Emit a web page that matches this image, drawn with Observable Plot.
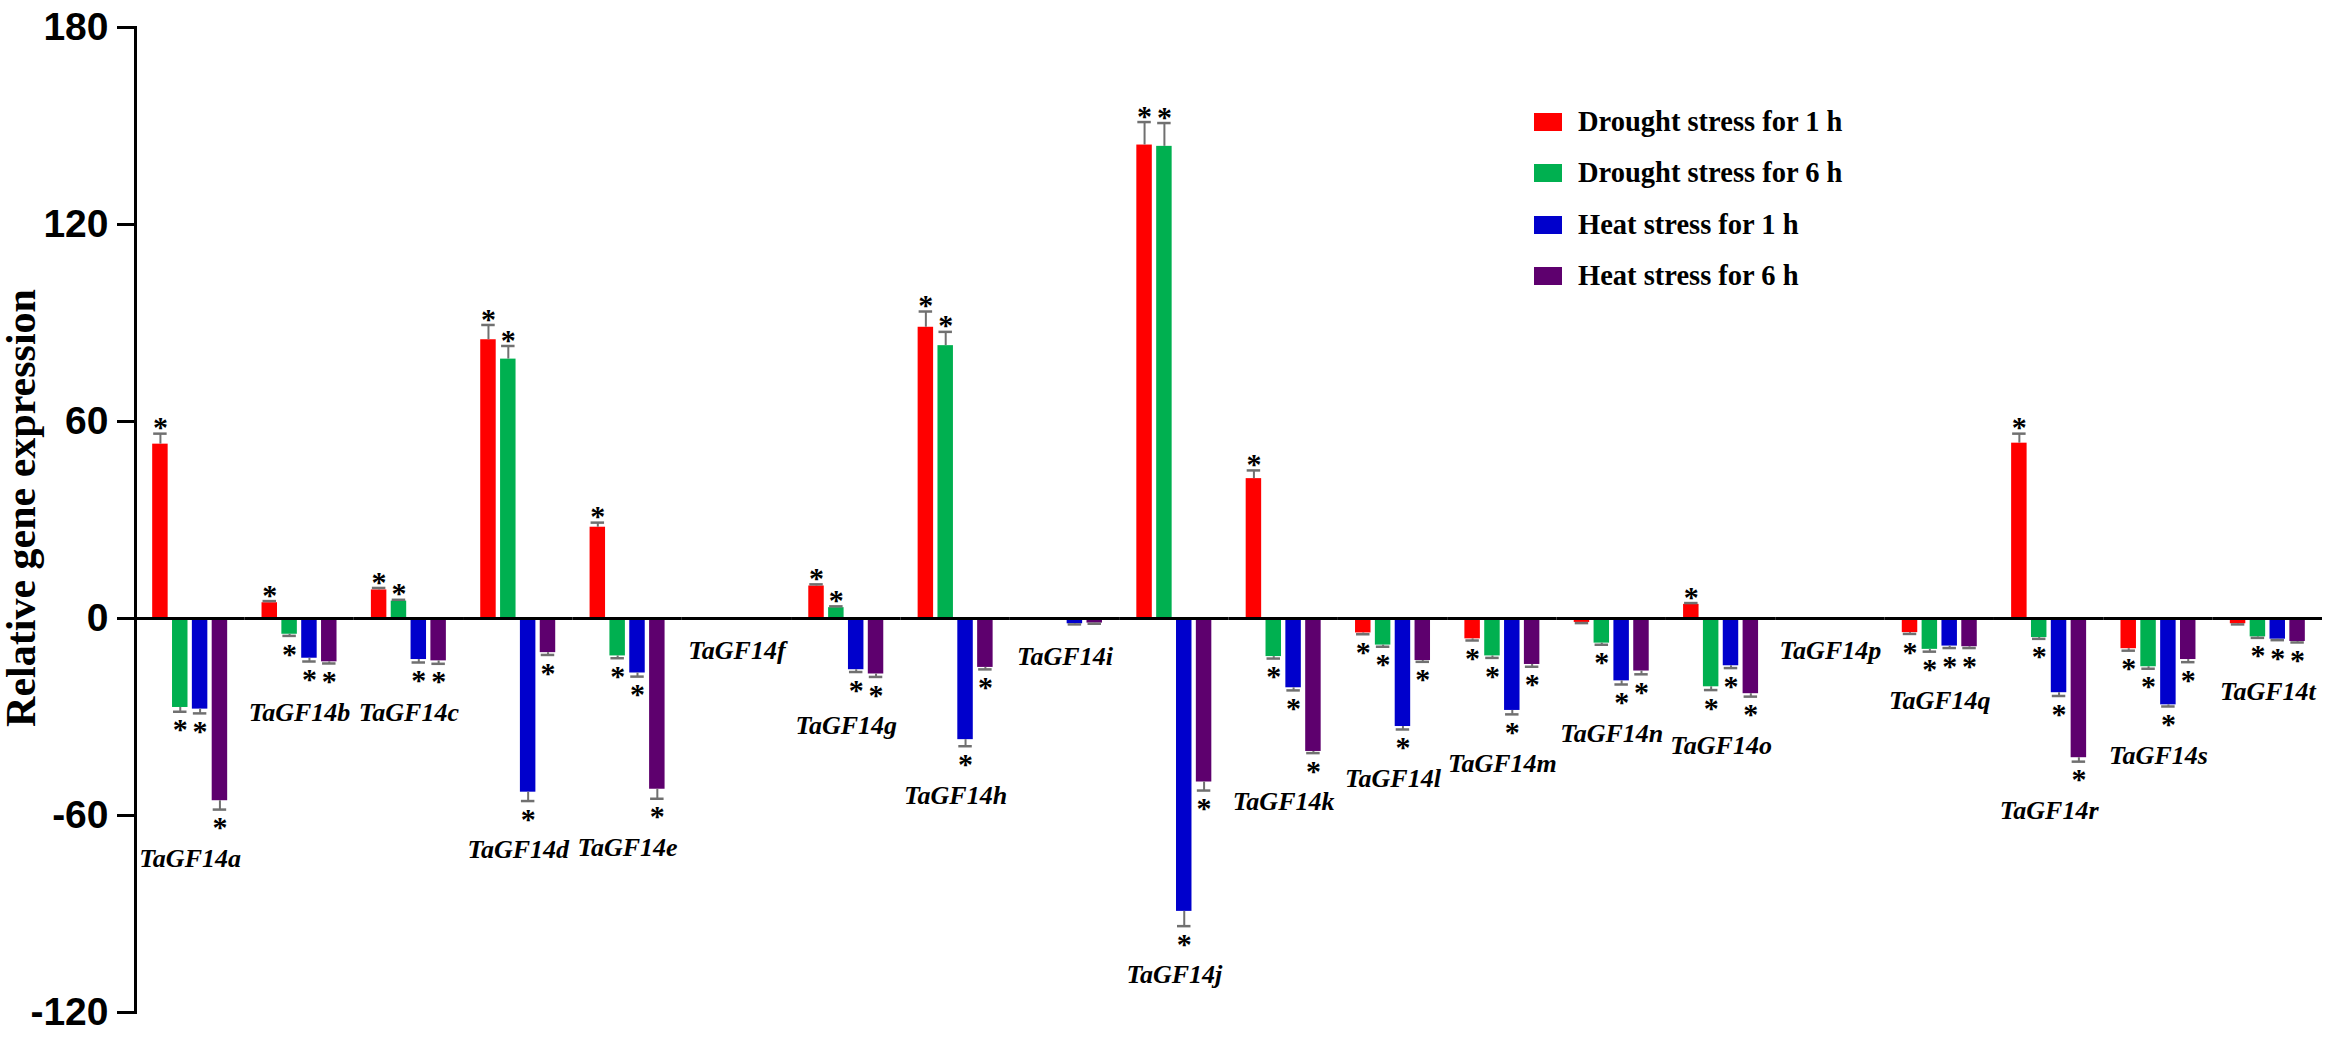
<!DOCTYPE html>
<html>
<head>
<meta charset="utf-8">
<script src="https://cdn.jsdelivr.net/npm/d3@7"></script>
<script src="https://cdn.jsdelivr.net/npm/@observablehq/plot@0.6"></script>
<style>
  html, body { margin: 0; padding: 0; background: #fff; }
  #wrap { position: relative; width: 2333px; height: 1039px; }
  #legend { position: absolute; left: 1534px; top: 96px; font-family: "Liberation Serif", "Times New Roman", serif; font-weight: bold; font-size: 28.5px; color: #000; }
  #legend .row { display: flex; align-items: center; height: 51.5px; }
  #legend .sw { width: 28px; height: 18px; margin-right: 16px; }
</style>
</head>
<body>
<div id="wrap"><div id="legend"></div></div>
<script>
// ---- data ----
const genes = ["TaGF14a","TaGF14b","TaGF14c","TaGF14d","TaGF14e","TaGF14f","TaGF14g","TaGF14h","TaGF14i","TaGF14j",
               "TaGF14k","TaGF14l","TaGF14m","TaGF14n","TaGF14o","TaGF14p","TaGF14q","TaGF14r","TaGF14s","TaGF14t"];
const series = ["Drought stress for 1 h", "Drought stress for 6 h", "Heat stress for 1 h", "Heat stress for 6 h"];
const colors = ["#ff0000", "#00b050", "#0000cc", "#5e006e"];

const drought1h    = [53.1, 4.8, 8.7, 84.9, 27.8, 0, 9.9, 88.7, 0, 144.2, 42.6, -4.4, -6.2, -1.2, 4.3, 0, -4.3, 53.4, -9.2, -1.6];
const drought1hErr = [3.2, 0.5, 0.6, 4.5, 1.4, 0, 0.5, 4.8, 0, 7.0, 2.5, 0.4, 0.5, 0.2, 0.4, 0, 0.4, 2.9, 0.6, 0.2];
const drought1hSig = [1,1,1,1,1,0,1,1,0,1,1,1,1,0,1,0,1,1,1,0];

const drought6h    = [-27.1, -4.8, 5.3, 79.0, -11.4, 0, 3.3, 83.1, 0, 143.8, -11.6, -8.1, -11.4, -7.5, -20.8, 0, -9.4, -5.8, -14.7, -5.6];
const drought6hErr = [1.3, 0.5, 0.4, 4.0, 0.7, 0, 0.4, 4.2, 0, 7.1, 0.6, 0.5, 0.6, 0.5, 1.0, 0, 0.7, 0.4, 0.6, 0.3];
const drought6hSig = [1,1,1,1,1,0,1,1,0,1,1,1,1,1,1,0,1,1,1,1];

const heat1h    = [-27.6, -12.1, -12.5, -52.9, -16.6, 0, -15.6, -36.9, -1.6, -89.2, -21.1, -32.9, -28.0, -19.0, -14.4, 0, -8.4, -22.6, -26.3, -6.3];
const heat1hErr = [1.3, 1.0, 0.9, 2.7, 1.1, 0, 0.7, 2.0, 0.2, 4.5, 0.8, 0.9, 1.2, 1.1, 0.7, 0, 0.6, 1.0, 0.5, 0.3];
const heat1hSig = [1,1,1,1,1,0,1,1,0,1,1,1,1,1,1,0,1,1,1,1];

const heat6h    = [-55.5, -13.2, -12.9, -10.4, -52.0, 0, -16.9, -14.9, -1.4, -49.8, -40.5, -12.8, -14.0, -16.0, -22.9, 0, -8.6, -42.4, -12.5, -7.0];
const heat6hErr = [2.7, 0.5, 0.9, 0.7, 2.9, 0, 0.9, 0.6, 0.2, 2.6, 0.5, 0.4, 0.7, 1.0, 0.9, 0, 0.4, 1.2, 0.8, 0.3];
const heat6hSig = [1,1,1,1,1,0,1,1,0,1,1,1,1,1,1,0,1,1,1,1];

const yTicks = [-120, -60, 0, 60, 120, 180];
const yLabel = "Relative gene expression";

// ---- tables built from the arrays ----
const values = [drought1h, drought6h, heat1h, heat6h];
const errs = [drought1hErr, drought6hErr, heat1hErr, heat6hErr];
const sigs = [drought1hSig, drought6hSig, heat1hSig, heat6hSig];
const rows = [];
genes.forEach((g, i) => series.forEach((s, k) => {
  const v = values[k][i], e = errs[k][i];
  rows.push({gene: g, series: s, value: v, err: e, end: v >= 0 ? v + e : v - e, sig: sigs[k][i]});
}));
const labels = genes.map(g => {
  const rs = rows.filter(r => r.gene === g);
  const lowest = d3.least(rs, r => r.end);
  const low = Math.min(0, lowest.end);
  return {gene: g, low, starred: low < 0 && lowest.sig === 1};
});

const errColor = "#707070";
const serif = "Liberation Serif, Times New Roman, serif";
const starFont = {fontSize: 30, fontWeight: "bold", fontFamily: serif, lineAnchor: "middle", fill: "black"};
const labelFont = {fontSize: 26, fontStyle: "italic", fontWeight: "bold", fontFamily: serif, lineAnchor: "middle", fill: "black"};

const chart = Plot.plot({
  width: 2333, height: 1039,
  marginLeft: 135, marginRight: 11, marginTop: 27, marginBottom: 27,
  style: {background: "white", overflow: "visible"},
  fx: {domain: genes, padding: 0, round: false, axis: null, label: null},
  x: {domain: series, paddingInner: 0.22, paddingOuter: 0.866, round: false, axis: null, label: null},
  y: {domain: [-120, 180], label: null},
  color: {domain: series, range: colors},
  marks: [
    Plot.barY(rows, {fx: "gene", x: "series", y: "value", fill: "series"}),
    Plot.ruleX(rows.filter(d => d.err > 0), {fx: "gene", x: "series", y1: "value", y2: "end", stroke: errColor, strokeWidth: 2}),
    Plot.tickY(rows.filter(d => d.err > 0), {fx: "gene", x: "series", y: "end", stroke: errColor, strokeWidth: 2.5, insetLeft: 1, insetRight: 1}),
    Plot.text(rows.filter(d => d.sig && d.value >= 0), {fx: "gene", x: "series", y: "end", text: () => "*", dy: -6, ...starFont}),
    Plot.text(rows.filter(d => d.sig && d.value < 0), {fx: "gene", x: "series", y: "end", text: () => "*", dy: 18, ...starFont}),
    Plot.text(labels.filter(d => d.starred), {fx: "gene", y: "low", text: "gene", dy: 49, ...labelFont}),
    Plot.text(labels.filter(d => !d.starred), {fx: "gene", y: "low", text: "gene", dy: 32, ...labelFont}),
    Plot.ruleY([0], {stroke: "black", strokeWidth: 3}),
    Plot.frame({anchor: "left", facet: "super", stroke: "black", strokeWidth: 3}),
    Plot.axisY(yTicks, {tickSize: 18, tickPadding: 9, tickFormat: d => String(d), fontSize: 39, fontWeight: "bold",
      fontFamily: "Liberation Sans, Arial, sans-serif", strokeWidth: 3, label: null, stroke: "black", fill: "black"}),
    Plot.text([yLabel], {frameAnchor: "left", rotate: -90, dx: -114, dy: -12, textAnchor: "middle", facet: "super",
      fontSize: 42, fontWeight: "bold", fontFamily: serif, fill: "black"})
  ]
});
document.getElementById("wrap").prepend(chart);

const legend = document.getElementById("legend");
series.forEach((s, k) => {
  const row = document.createElement("div");
  row.className = "row";
  const sw = document.createElement("div");
  sw.className = "sw";
  sw.style.background = colors[k];
  const t = document.createElement("span");
  t.textContent = s;
  row.append(sw, t);
  legend.append(row);
});
</script>
</body>
</html>
